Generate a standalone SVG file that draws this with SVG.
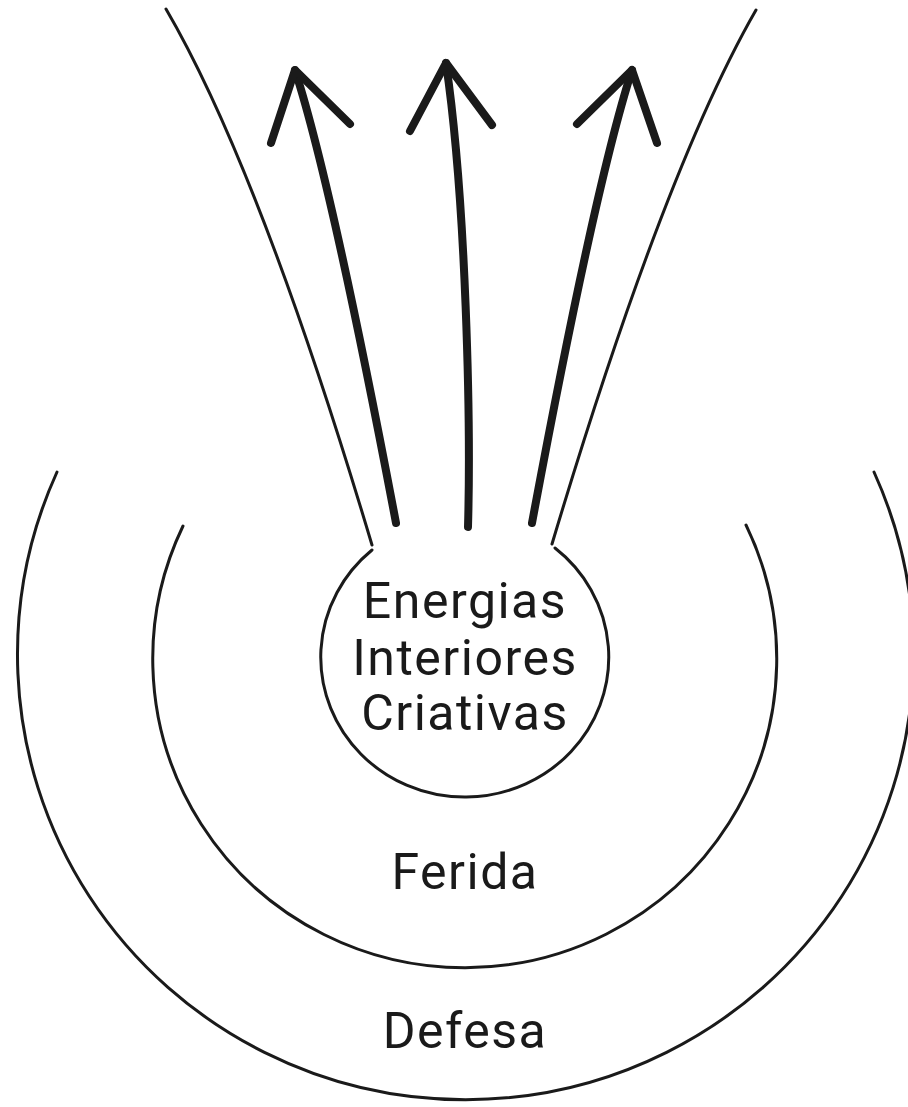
<svg xmlns="http://www.w3.org/2000/svg" width="908" height="1107" viewBox="0 0 908 1107">
<style>
.thin{fill:none;stroke:#1a1a1a;stroke-width:3;stroke-linecap:round}
.arrow{fill:none;stroke:#1a1a1a;stroke-width:8;stroke-linecap:round;stroke-linejoin:round}
.lbl{font-family:Roboto,"Liberation Sans",sans-serif;font-size:50px;fill:#1a1a1a;text-anchor:middle;letter-spacing:1.5px}
</style>
<rect width="908" height="1107" fill="#fff"/>
<g id="defesa">
<path class="thin" d="M874 472 A448 445 0 1 1 57 472"/>
<text class="lbl" x="465" y="1048">Defesa</text>
</g>
<g id="ferida">
<path class="thin" d="M746 525 A312 309 0 1 1 183 526"/>
<text class="lbl" x="465" y="889">Ferida</text>
</g>
<g id="energias">
<path class="thin" d="M555 548 A144 140 0 1 1 372 550"/>
<text class="lbl" x="465" y="618">Energias</text>
<text class="lbl" x="465" y="675">Interiores</text>
<text class="lbl" x="465" y="730">Criativas</text>
</g>
<g id="connectors">
<path class="thin" d="M166 9 Q260 170 372 545"/>
<path class="thin" d="M756 10 Q664 170 552 544"/>
<path class="arrow" d="M396 523 Q332 185 295 70"/>
<polyline class="arrow" points="271,143 295,70 350,124"/>
<path class="arrow" d="M468 527 C471 420 466 200 446 63"/>
<polyline class="arrow" points="410,131 446,63 492,125"/>
<path class="arrow" d="M532 523 Q595 185 632 70"/>
<polyline class="arrow" points="577,124 632,70 657,143"/>
</g>
</svg>
